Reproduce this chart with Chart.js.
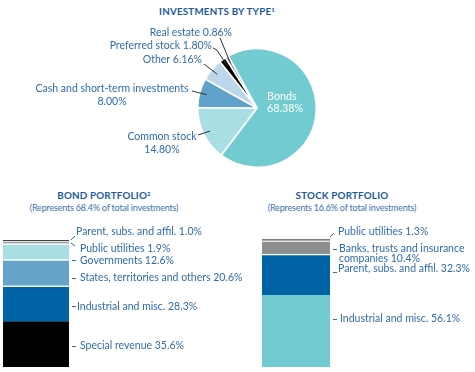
<!DOCTYPE html>
<html lang="en">
<head>
    <meta charset="UTF-8">
    <title>Investments by type</title>
    <script src="https://cdn.jsdelivr.net/npm/chart.js"></script>
    <style>
        body {
            margin: 0;
            background: #ffffff;
            font-family: Lato, "Open Sans", sans-serif;
        }
        .page {
            position: relative;
            width: 475px;
            height: 372px;
            overflow: hidden;
        }
        canvas {
            position: absolute;
        }
        .title {
            position: absolute;
            font-weight: bold;
            font-size: 9.8px;
            color: #1c5a9e;
            text-align: center;
            letter-spacing: 0.2px;
        }
        .sub {
            position: absolute;
            font-size: 9px;
            color: #3b74b2;
            text-align: center;
            letter-spacing: -0.2px;
        }
        sup {
            font-size: 6px;
            vertical-align: 3px;
        }
    </style>
</head>
<body>
<div class="page">
    <div class="title" style="left:127px; width:180px; top:5px;">INVESTMENTS BY TYPE<sup>1</sup></div>
    <div class="title" style="left:14px; width:180px; top:189px;">BOND PORTFOLIO<sup>2</sup></div>
    <div class="sub" style="left:14px; width:180px; top:202px;">(Represents 68.4% of total investments)</div>
    <div class="title" style="left:252px; width:180px; top:189px;">STOCK PORTFOLIO</div>
    <div class="sub" style="left:252px; width:180px; top:202px;">(Represents 16.6% of total investments)</div>

    <canvas id="pieChart" width="475" height="180" style="left:0; top:0;"></canvas>
    <canvas id="bondChart" width="250" height="192" style="left:0; top:180px;"></canvas>
    <canvas id="stockChart" width="235" height="192" style="left:240px; top:180px;"></canvas>
</div>
<script>
    // data
    const pieLabels = ["Bonds", "Common stock", "Cash and short-term investments", "Other", "Preferred stock", "Real estate"];
    const pieValues = [68.38, 14.80, 8.00, 6.16, 1.80, 0.86];
    const pieColors = ["#72cbd1", "#a9dfe3", "#61a2cb", "#bdd6e9", "#000000", "#9a9a9a"];

    const bondLabels = ["Special revenue", "Industrial and misc.", "States, territories and others", "Governments", "Public utilities", "Parent, subs. and affil."];
    const bondValues = [35.6, 28.3, 20.6, 12.6, 1.9, 1.0];
    const bondColors = ["#000000", "#0063a5", "#65a3cb", "#a9dfe3", "#9a9a9a", "#000000"];

    const stockLabels = ["Industrial and misc.", "Parent, subs. and affil.", "Banks, trusts and insurance companies", "Public utilities"];
    const stockValues = [56.1, 32.3, 10.4, 1.3];
    const stockColors = ["#72cbd1", "#0063a5", "#8e8e8e", "#000000"];

    const textBlue = "#2e6db0";
    const labelFont = "10.5px Lato, 'Open Sans', sans-serif";

    // label placement (page coords), br = words on first line
    const pieLayout = [
        { inside: true },
        { x: 162, y: 137, align: "center", br: 2, lead: [[198, 135]] },
        { x: 112, y: 89, align: "center", br: 4, lead: [[192, 91]] },
        { x: 202, y: 60, align: "right", lead: [[204, 64]] },
        { x: 212, y: 46, align: "right", lead: [[213, 48], [217, 50]] },
        { x: 232, y: 33, align: "right", lead: [[220, 38]] }
    ];
    const bondLayout = [
        { x: 80, y: 346, dy: 0 },
        { x: 77, y: 307, dy: -1 },
        { x: 80, y: 278, dy: 0 },
        { x: 80, y: 261, dy: -1 },
        { x: 80, y: 249, lead: [[71, 243], [75, 246]] },
        { x: 76, y: 232, lead: [[71, 240], [75, 236]] }
    ];
    const stockLayout = [
        { x: 340, y: 319, dy: 0 },
        { x: 338, y: 269, dy: 3 },
        { x: 339, y: 249, dy: 0, br: 4 },
        { x: 338, y: 232, lead: [[330, 237], [334, 233]] }
    ];

    function splitText(text, br) {
        if (!br) return [text];
        let words = text.split(" ");
        return [words.slice(0, br).join(" "), words.slice(br).join(" ")];
    }

    function drawLines(ctx, lines, x, y, lh) {
        lines.forEach((l, i) => ctx.fillText(l, x, y + i * lh));
    }

    const pieLabelPlugin = {
        id: "pieLabels",
        afterDraw(chart) {
            let ctx = chart.ctx;
            let arcs = chart.getDatasetMeta(0).data;
            ctx.save();
            ctx.font = labelFont;
            ctx.textBaseline = "middle";
            arcs.forEach((arc, i) => {
                let lay = pieLayout[i];
                let text = pieLabels[i] + " " + pieValues[i].toFixed(2) + "%";
                if (lay.inside) {
                    ctx.fillStyle = "#ffffff";
                    ctx.textAlign = "left";
                    ctx.font = "10.8px Lato, 'Open Sans', sans-serif";
                    drawLines(ctx, [pieLabels[i], pieValues[i].toFixed(2) + "%"], arc.x + 10, arc.y - 11, 12);
                    ctx.font = labelFont;
                    return;
                }
                ctx.fillStyle = textBlue;
                ctx.textAlign = lay.align;
                drawLines(ctx, splitText(text, lay.br), lay.x, lay.y, 12.5);
                // leader line to the slice
                let mid = (arc.startAngle + arc.endAngle) / 2;
                let rr = arc.outerRadius * 0.88;
                ctx.strokeStyle = "#333333";
                ctx.lineWidth = 1;
                ctx.beginPath();
                ctx.moveTo(lay.lead[0][0], lay.lead[0][1]);
                lay.lead.slice(1).forEach(p => ctx.lineTo(p[0], p[1]));
                ctx.lineTo(arc.x + Math.cos(mid) * rr, arc.y + Math.sin(mid) * rr);
                ctx.stroke();
            });
            ctx.restore();
        }
    };

    function barLabelPlugin(labels, values, layout, offX, offY) {
        return {
            id: "barLabels",
            afterDraw(chart) {
                let ctx = chart.ctx;
                ctx.save();
                ctx.translate(-offX, -offY);
                ctx.font = labelFont;
                ctx.textBaseline = "middle";
                ctx.textAlign = "left";
                ctx.fillStyle = textBlue;
                ctx.strokeStyle = textBlue;
                ctx.lineWidth = 1;
                labels.forEach((name, i) => {
                    let lay = layout[i];
                    let bar = chart.getDatasetMeta(i).data[0];
                    let right = bar.x + bar.width / 2 + offX;
                    let text = name + " " + values[i].toFixed(1) + "%";
                    drawLines(ctx, splitText(text, lay.br), lay.x, lay.y, 9.5);
                    ctx.beginPath();
                    if (lay.lead) {
                        ctx.moveTo(lay.lead[0][0], lay.lead[0][1]);
                        ctx.lineTo(lay.lead[1][0], lay.lead[1][1]);
                    } else {
                        ctx.moveTo(right + 3, lay.y + lay.dy + 0.5);
                        ctx.lineTo(right + 7, lay.y + lay.dy + 0.5);
                    }
                    ctx.stroke();
                });
                ctx.restore();
            }
        };
    }

    new Chart(document.getElementById("pieChart"), {
        type: "pie",
        data: {
            labels: pieLabels,
            datasets: [{
                data: pieValues,
                backgroundColor: pieColors,
                borderColor: "#ffffff",
                borderWidth: 1.5
            }]
        },
        options: {
            responsive: false,
            animation: false,
            rotation: -29,
            layout: { padding: { left: 197, right: 158, top: 48, bottom: 12 } },
            plugins: { legend: { display: false }, tooltip: { enabled: false } }
        },
        plugins: [pieLabelPlugin]
    });

    function stackedBar(id, labels, values, colors, layout, pad, offX, offY) {
        let total = values.reduce((a, b) => a + b, 0);
        new Chart(document.getElementById(id), {
            type: "bar",
            data: {
                labels: [""],
                datasets: values.map((v, i) => ({
                    label: labels[i],
                    data: [v],
                    backgroundColor: colors[i],
                    borderColor: "#ffffff",
                    borderWidth: { top: i === 0 ? 0 : (v < 2 ? 0.8 : 1.5), bottom: 0, left: 0, right: 0 },
                    borderSkipped: false,
                    barPercentage: 1,
                    categoryPercentage: 1
                }))
            },
            options: {
                responsive: false,
                animation: false,
                layout: { padding: pad },
                scales: {
                    x: { display: false, stacked: true },
                    y: { display: false, stacked: true, min: 0, max: total }
                },
                plugins: { legend: { display: false }, tooltip: { enabled: false } }
            },
            plugins: [barLabelPlugin(labels, values, layout, offX, offY)]
        });
    }

    stackedBar("bondChart", bondLabels, bondValues, bondColors, bondLayout,
        { left: 3, right: 181, top: 60, bottom: 5 }, 0, 180);
    stackedBar("stockChart", stockLabels, stockValues, stockColors, stockLayout,
        { left: 22, right: 145, top: 59, bottom: 5 }, 240, 180);
</script>
</body>
</html>
